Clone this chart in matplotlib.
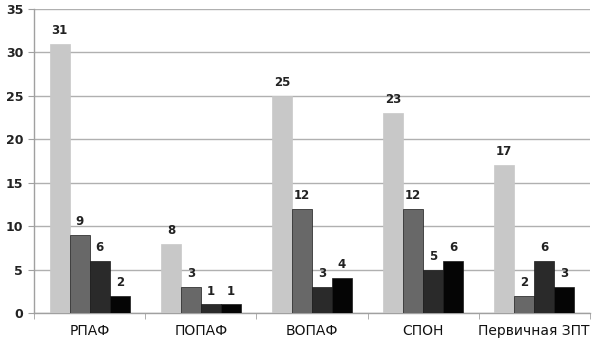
import numpy as np
import matplotlib.pyplot as plt

categories = ["РПАФ", "ПОПАФ", "ВОПАФ", "СПОН", "Первичная ЗПТ"]
series1 = [31, 8, 25, 23, 17]
series2 = [9, 3, 12, 12, 2]
series3 = [6, 1, 3, 5, 6]
series4 = [2, 1, 4, 6, 3]
yticks = [0, 5, 10, 15, 20, 25, 30, 35]

colors = ["#c8c8c8", "#686868", "#2a2a2a", "#050505"]

fig = plt.figure(figsize=(6, 3.43), dpi=100)
ax = fig.add_axes([0.057, 0.087, 0.926, 0.887])

x = np.arange(len(categories))
w = 0.18
for i, (vals, c) in enumerate(zip([series1, series2, series3, series4], colors)):
    pos = x + (i - 1.5) * w
    ax.bar(pos, vals, w, color=c, edgecolor="#1a1a1a" if i > 0 else c,
           linewidth=0.5, zorder=3)
    for p, v in zip(pos, vals):
        ax.text(p, v + 0.8, str(v), ha="center", va="bottom",
                fontsize=8.5, fontweight="bold", color="#222222")

ax.set_xlim(-0.5, len(categories) - 0.5)
ax.set_ylim(0, 35)
ax.set_yticks(yticks)
ax.set_yticklabels([str(t) for t in yticks], fontsize=9, fontweight="bold", color="#222222")
ax.yaxis.grid(True, color="#b0b0b0", linewidth=1, zorder=0)
ax.tick_params(axis="y", length=4, color="#a0a0a0", pad=4)

ax.set_xticks(x)
ax.set_xticklabels(categories, fontsize=10, color="#111111")
ax.tick_params(axis="x", length=0, pad=8)
ax.set_xticks(np.arange(len(categories) + 1) - 0.5, minor=True)
ax.tick_params(axis="x", which="minor", length=4, color="#a0a0a0")

for s in ["top", "right"]:
    ax.spines[s].set_visible(False)
for s in ["left", "bottom"]:
    ax.spines[s].set_color("#a0a0a0")
    ax.spines[s].set_linewidth(1)

fig.savefig("out.png", dpi=100)
